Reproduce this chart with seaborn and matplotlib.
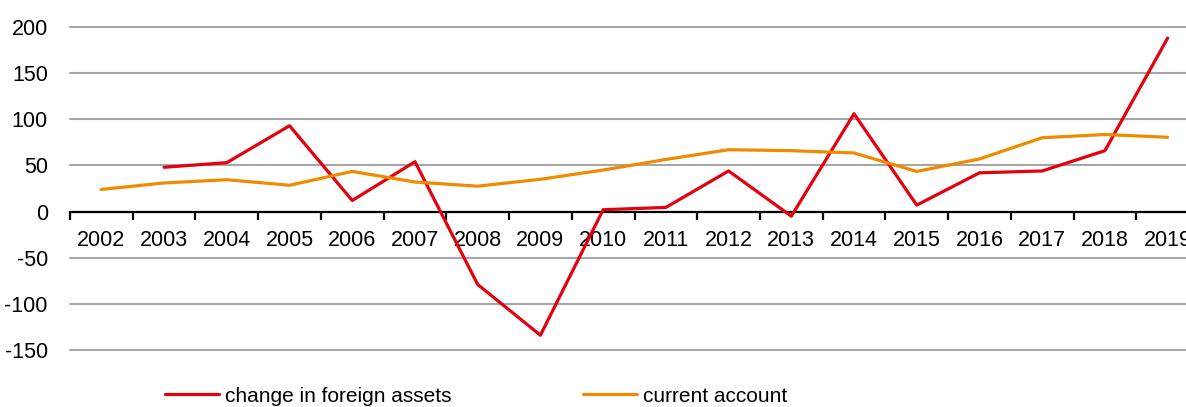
import numpy as np
import pandas as pd
import matplotlib
matplotlib.use("Agg")
import matplotlib.pyplot as plt
from matplotlib.lines import Line2D
from matplotlib.ticker import FixedLocator
import seaborn as sns

years = [str(y) for y in range(2002, 2020)]
foreign_assets = [np.nan, 48, 53, 93, 12, 54, -79, -134, 2, 4.5, 44, -5, 106, 7, 42, 44, 66, 188]
current_account = [24, 31, 34.5, 28.5, 43.5, 32, 27.5, 35, 45, 56.5, 67, 66, 63.5, 43.5, 57, 80, 83.5, 80.5]
yticks = [-150, -100, -50, 0, 50, 100, 150, 200]
series_names = ["change in foreign assets", "current account"]
colors = ["#E3000F", "#F08A00"]

sns.set_theme(style="white")
plt.rcParams["font.family"] = ["Liberation Sans", "DejaVu Sans"]
plt.rcParams["text.color"] = "black"

df = pd.DataFrame({
    "year": years * 2,
    "value": foreign_assets + current_account,
    "series": [series_names[0]] * len(years) + [series_names[1]] * len(years),
})

fig = plt.figure(figsize=(11.86, 4.07), dpi=100)
W, H = 1186, 407
left, right = 70 / W, 1199 / W
bottom, top = 1 - 350 / H, 1 - 27 / H
ax = fig.add_axes([left, bottom, right - left, top - bottom])

# gridlines
for yv in yticks:
    if yv != 0:
        ax.axhline(yv, color="#A6A6A6", lw=1.5, zorder=0, clip_on=False)

sns.lineplot(data=df, x="year", y="value", hue="series", palette=colors,
             linewidth=2.3, ax=ax, legend=False, sort=False, zorder=3)

ax.set_xlim(-0.5, len(years) - 0.5)
ax.set_ylim(-150, 200)
for s in ["top", "right", "left"]:
    ax.spines[s].set_visible(False)
ax.spines["bottom"].set_position(("data", 0))
ax.spines["bottom"].set_color("black")
ax.spines["bottom"].set_linewidth(1.6)
ax.spines["bottom"].set_zorder(2)

ax.set_xticks(range(len(years)))
ax.set_xticklabels(years)
ax.xaxis.set_minor_locator(FixedLocator(np.arange(-0.5, len(years), 1.0)))
ax.tick_params(axis="x", which="major", length=0, pad=13, labelsize=15.5, colors="black")
ax.tick_params(axis="x", which="minor", bottom=True, length=6, width=1.6, direction="out", color="black")

ax.set_yticks(yticks)
ax.set_yticklabels([str(v) for v in yticks])
ax.tick_params(axis="y", length=0, pad=16, labelsize=15.5, colors="black")
ax.set_xlabel("")
ax.set_ylabel("")

# legends
h1 = [Line2D([], [], color=colors[0], lw=2.3)]
h2 = [Line2D([], [], color=colors[1], lw=2.3)]
ly = 1 - 396 / H
fig.legend(h1, [series_names[0]], loc="center left", bbox_to_anchor=(165 / W, ly),
           frameon=False, fontsize=15, handlelength=2.6, handletextpad=0.3, borderpad=0,
           borderaxespad=0, labelcolor="black")
fig.legend(h2, [series_names[1]], loc="center left", bbox_to_anchor=(583 / W, ly),
           frameon=False, fontsize=15, handlelength=2.6, handletextpad=0.3, borderpad=0,
           borderaxespad=0, labelcolor="black")

fig.savefig("out.png", dpi=100)
